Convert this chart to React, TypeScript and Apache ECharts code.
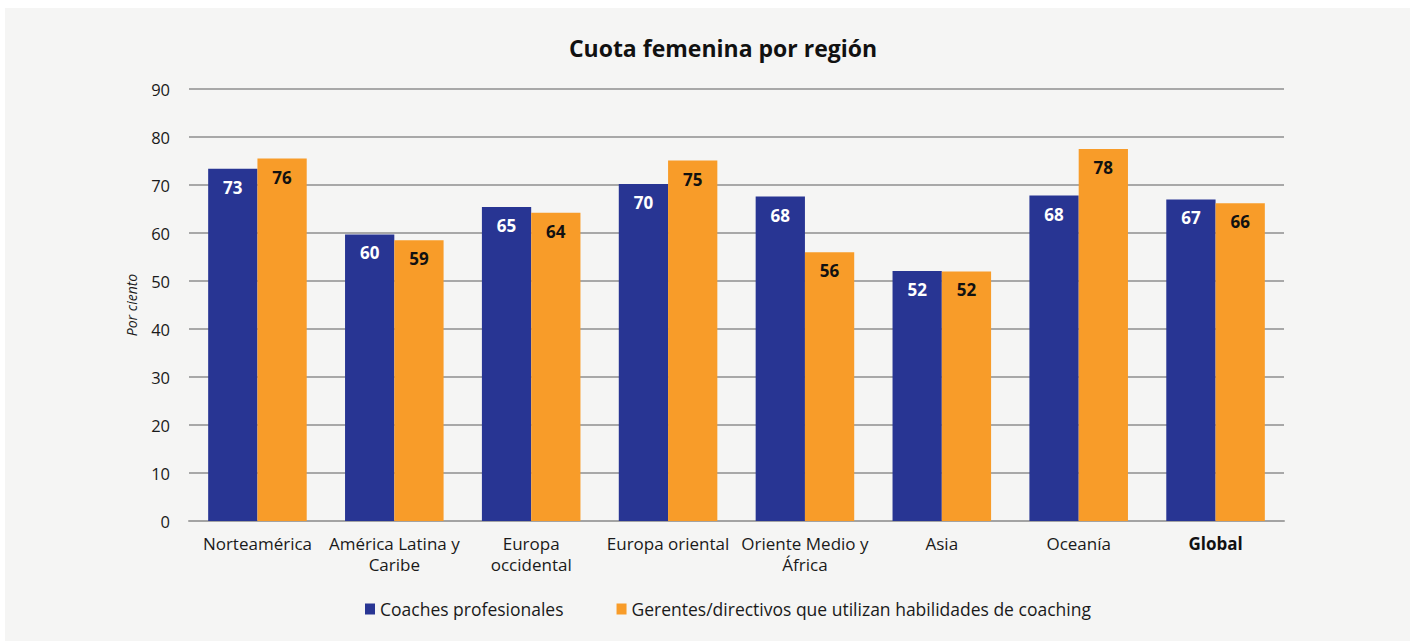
import React, { useEffect, useRef } from "react";
import * as echarts from "echarts";

const categories = [
  "Norteamérica",
  "América Latina y\nCaribe",
  "Europa\noccidental",
  "Europa oriental",
  "Oriente Medio y\nÁfrica",
  "Asia",
  "Oceanía",
  "Global",
];
const coaches = [73.4, 59.7, 65.4, 70.2, 67.6, 52.1, 67.8, 67.0];
const gerentes = [75.5, 58.5, 64.2, 75.1, 56.0, 52.0, 77.5, 66.2];
const seriesNames = [
  "Coaches profesionales",
  "Gerentes/directivos que utilizan habilidades de coaching",
];
const titleText = "Cuota femenina por región";
const yAxisName = "Por ciento";

const FONT = "'Open Sans', 'Noto Sans', sans-serif";

export default function App() {
  const ref = useRef<HTMLDivElement>(null);
  useEffect(() => {
    if (!ref.current) return;
    const chart = echarts.init(ref.current, undefined, { renderer: "svg" });
    chart.setOption({
      animation: false,
      backgroundColor: "#f5f5f4",
      textStyle: { fontFamily: FONT },
      graphic: [
        {
          type: "text",
          x: 718,
          y: 40,
          style: {
            text: titleText,
            fontFamily: FONT,
            fontSize: 23,
            fontWeight: "bold",
            fill: "#111",
            textAlign: "center",
            textVerticalAlign: "middle",
          },
        },
      ],
      legend: {
        left: 355,
        top: 587,
        itemWidth: 10,
        itemHeight: 11,
        itemGap: 53,
        icon: "rect",
        textStyle: { fontFamily: FONT, fontSize: 17.5, color: "#1a1a1a" },
        data: seriesNames,
      },
      grid: { left: 184, right: 126, top: 81, bottom: 120 },
      xAxis: {
        type: "category",
        data: categories,
        axisTick: { show: false },
        axisLine: { lineStyle: { color: "#a3a3a3", width: 2 } },
        axisLabel: {
          interval: 0,
          margin: 12,
          fontFamily: FONT,
          fontSize: 17,
          color: "#1a1a1a",
          lineHeight: 21,
          formatter: (v: string) => (v === "Global" ? "{b|" + v + "}" : v),
          rich: {
            b: {
              fontFamily: FONT,
              fontSize: 17,
              fontWeight: "bold",
              color: "#111",
              lineHeight: 21,
            },
          },
        },
      },
      yAxis: {
        type: "value",
        min: 0,
        max: 90,
        interval: 10,
        name: yAxisName,
        nameLocation: "middle",
        nameGap: 51,
        nameTextStyle: {
          fontFamily: FONT,
          fontSize: 14,
          fontStyle: "italic",
          color: "#1a1a1a",
        },
        axisLine: { show: false },
        axisTick: { show: false },
        axisLabel: {
          margin: 19,
          fontFamily: FONT,
          fontSize: 16.5,
          color: "#1a1a1a",
        },
        splitLine: { lineStyle: { color: "#a8a8a8", width: 2 } },
      },
      series: [
        {
          name: seriesNames[0],
          type: "bar",
          data: coaches,
          barGap: "0%",
          barCategoryGap: "28%",
          itemStyle: { color: "#283593" },
          label: {
            show: true,
            position: "insideTop",
            distance: 10,
            fontFamily: FONT,
            fontSize: 17,
            fontWeight: "bold",
            color: "#ffffff",
            formatter: (p: any) => String(Math.round(p.value)),
          },
        },
        {
          name: seriesNames[1],
          type: "bar",
          data: gerentes,
          barGap: "0%",
          barCategoryGap: "28%",
          itemStyle: { color: "#f89c29" },
          label: {
            show: true,
            position: "insideTop",
            distance: 10,
            fontFamily: FONT,
            fontSize: 17,
            fontWeight: "bold",
            color: "#111111",
            formatter: (p: any) => String(Math.round(p.value)),
          },
        },
      ],
    });
    return () => chart.dispose();
  }, []);
  return (
    <div
      style={{
        position: "absolute",
        left: 5,
        top: 8,
        width: 1405,
        height: 633,
      }}
    >
      <div ref={ref} style={{ width: 1405, height: 633 }} />
    </div>
  );
}
